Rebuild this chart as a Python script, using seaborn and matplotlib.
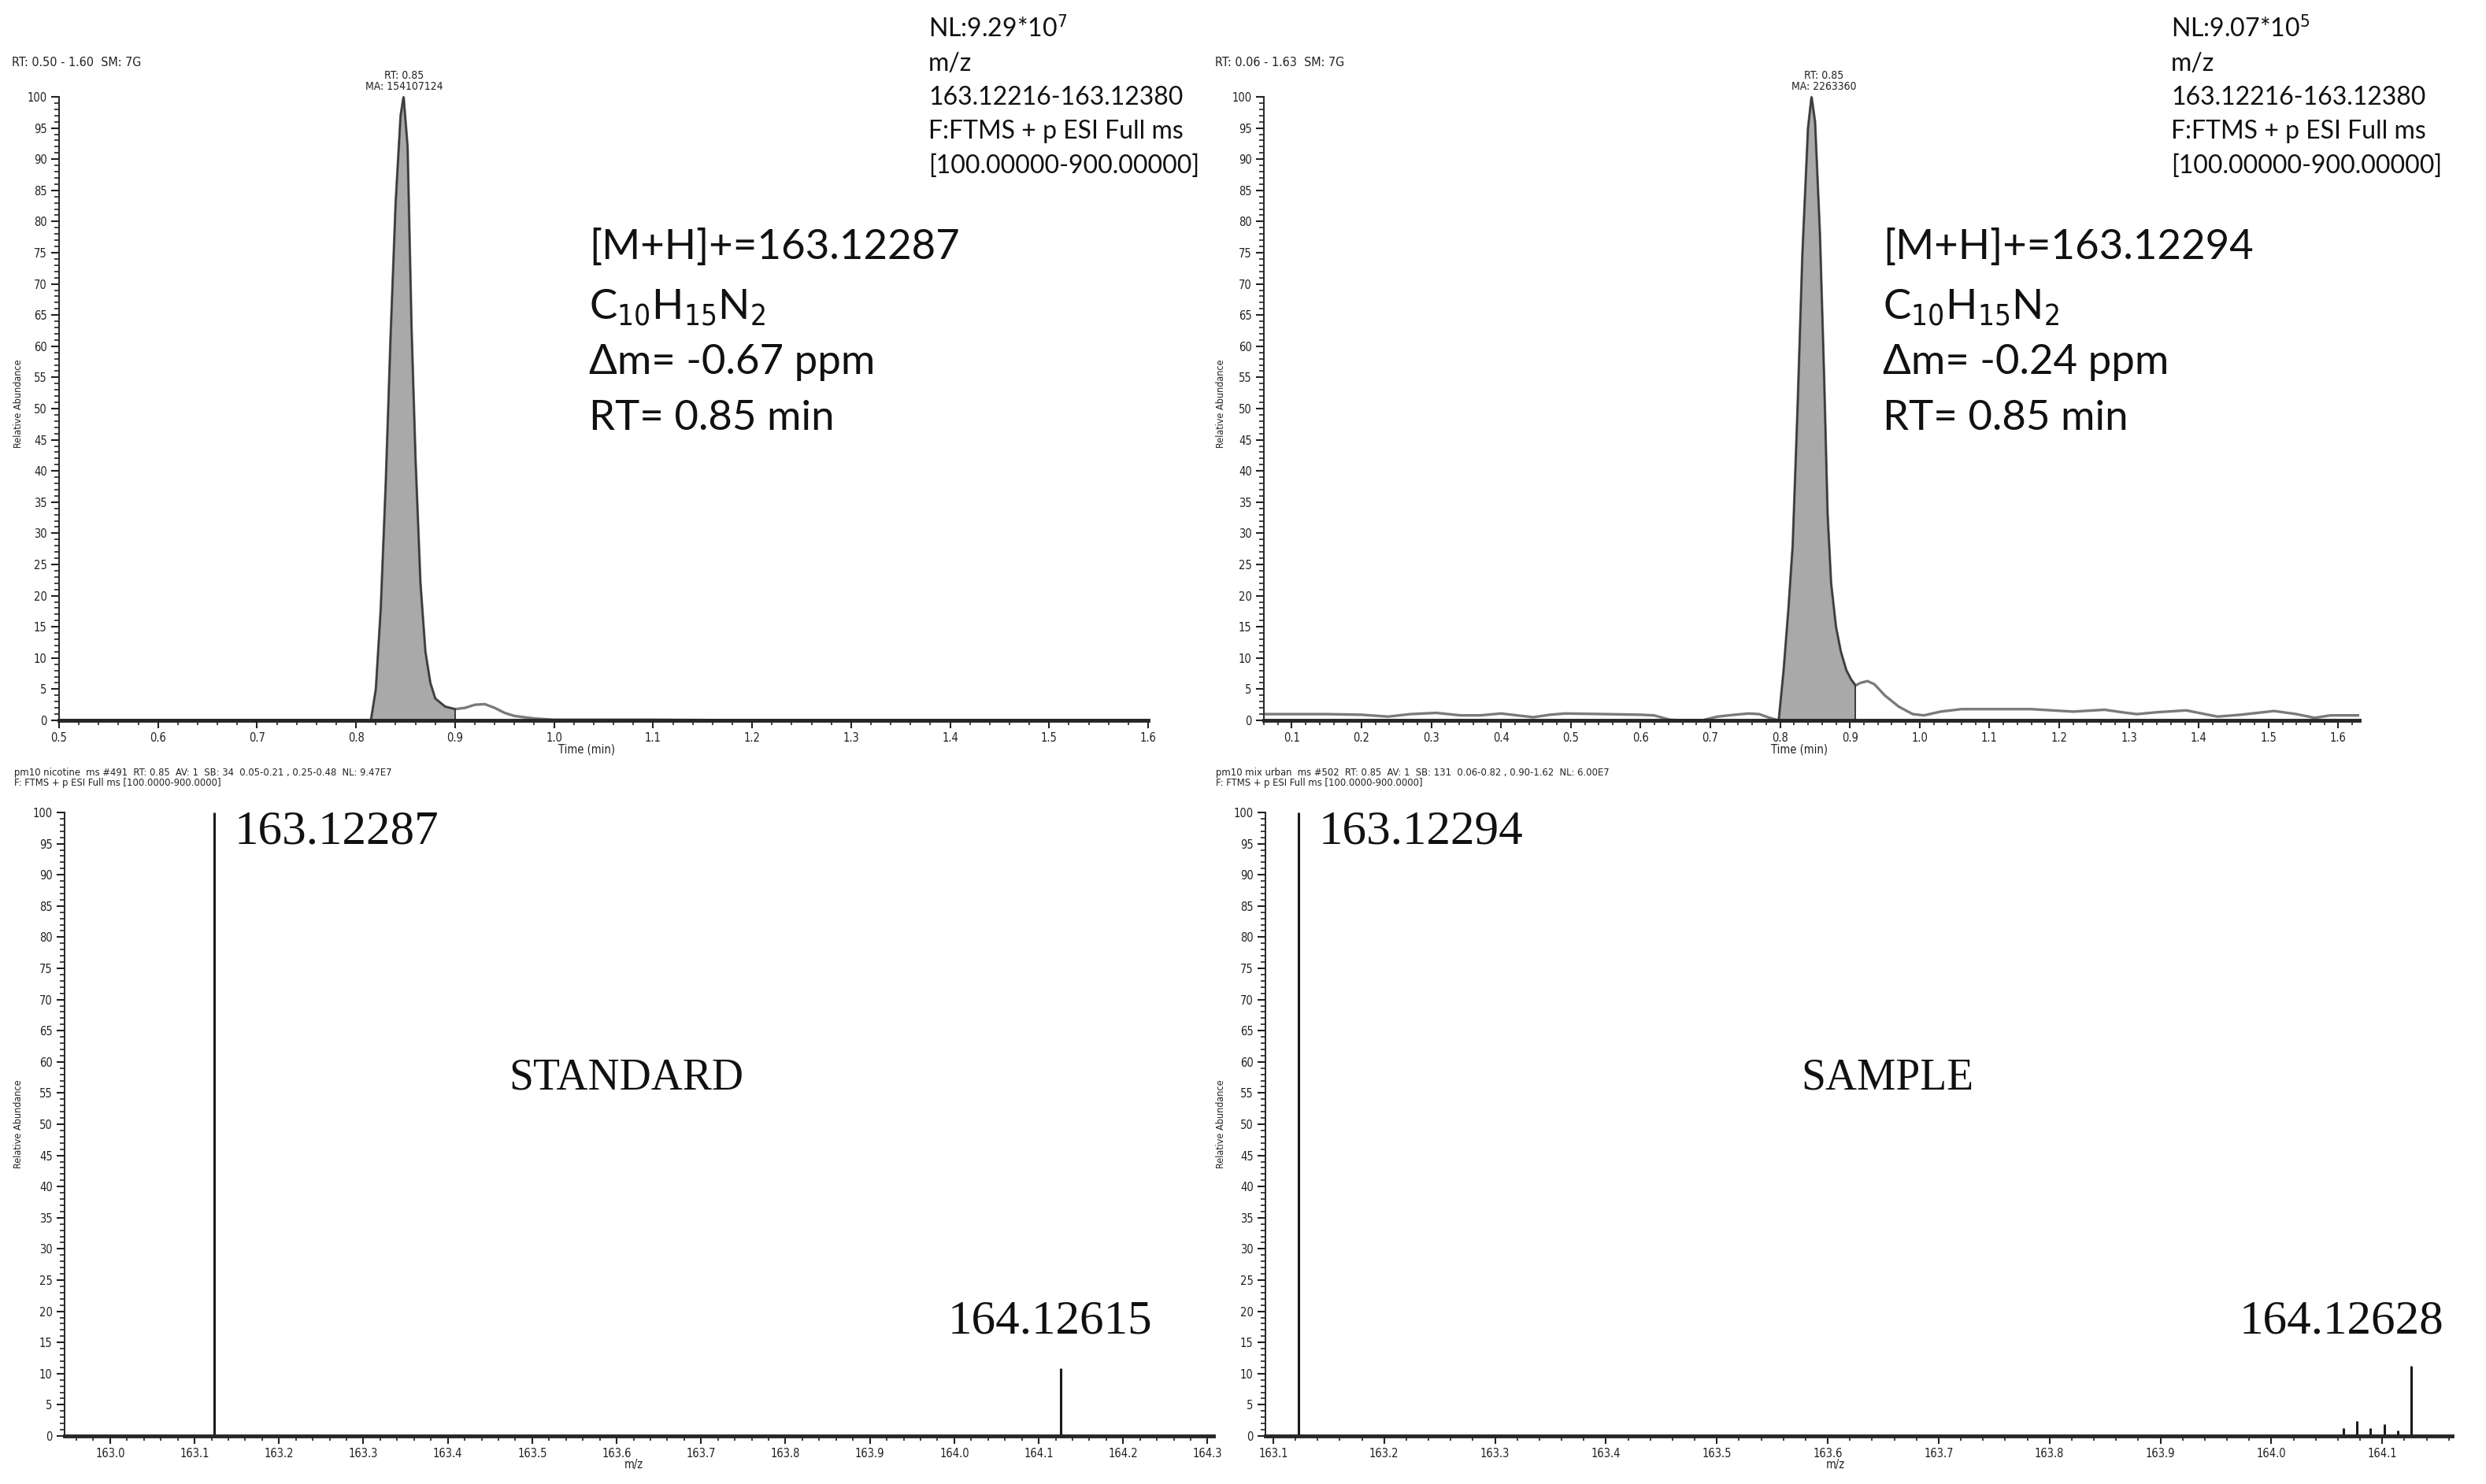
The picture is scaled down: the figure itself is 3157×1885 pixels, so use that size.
import matplotlib
matplotlib.use("Agg")
import matplotlib.pyplot as plt
from matplotlib.ticker import MultipleLocator
import seaborn as sns
import pandas as pd

# ---- data ----
# extracted-ion chromatogram, standard (top left)
std_time = [0.50, 0.70, 0.80, 0.812, 0.815, 0.820, 0.825, 0.830, 0.835, 0.840, 0.845, 0.848,
            0.852, 0.856, 0.860, 0.865, 0.870, 0.875, 0.880, 0.890, 0.900, 0.910, 0.920,
            0.930, 0.940, 0.950, 0.960, 0.980, 1.000, 1.100, 1.200, 1.600]
std_abund = [0, 0, 0, 0, 0, 5, 18, 38, 62, 83, 97, 100,
             92, 63, 42, 22, 11, 6, 3.5, 2.2, 1.8, 2.0, 2.5,
             2.6, 2.0, 1.2, 0.7, 0.3, 0.1, 0.1, 0, 0]
std_peak = (0.815, 0.900)

# extracted-ion chromatogram, sample (top right)
smp_time = [0.06, 0.10, 0.15, 0.20, 0.238, 0.27, 0.307, 0.342, 0.37, 0.40, 0.446, 0.47, 0.492,
            0.55, 0.60, 0.619, 0.642, 0.66, 0.688, 0.71, 0.735, 0.755, 0.77, 0.785, 0.798,
            0.805, 0.812, 0.818, 0.825, 0.832, 0.840, 0.845, 0.850, 0.857, 0.863, 0.868,
            0.873, 0.880, 0.887, 0.895, 0.902, 0.908, 0.915, 0.925, 0.935, 0.950, 0.970,
            0.990, 1.006, 1.03, 1.06, 1.09, 1.12, 1.16, 1.19, 1.22, 1.265, 1.29, 1.311,
            1.34, 1.382, 1.40, 1.427, 1.46, 1.508, 1.54, 1.566, 1.589, 1.618, 1.63]
smp_abund = [1.0, 1.0, 1.0, 0.9, 0.6, 1.0, 1.2, 0.8, 0.8, 1.1, 0.5, 0.9, 1.1,
             1.0, 0.9, 0.8, 0.1, 0, 0, 0.6, 0.9, 1.1, 1.0, 0.4, 0,
             8, 18, 28, 50, 75, 95, 100, 96, 78, 55, 33,
             22, 15, 11, 8, 6.5, 5.6, 6.0, 6.3, 5.8, 4.0, 2.2,
             1.0, 0.8, 1.4, 1.8, 1.8, 1.8, 1.8, 1.6, 1.4, 1.7, 1.3, 1.0,
             1.3, 1.6, 1.2, 0.6, 0.9, 1.5, 1.0, 0.4, 0.8, 0.8, 0.8]
smp_peak = (0.798, 0.908)

# mass spectra (bottom)
std_mz = [163.12287, 164.12615]
std_int = [100, 10.9]
smp_mz = [163.12294, 164.065, 164.077, 164.089, 164.102, 164.114, 164.12628]
smp_int = [100, 1.2, 2.4, 1.3, 1.9, 0.9, 11.2]

W, H = 3157, 1885
fig = plt.figure(figsize=(W / 100, H / 100), dpi=100)
sns.set_style("ticks")
plt.rcParams["font.family"] = ["DejaVu Sans"]
plt.rcParams["font.stretch"] = "condensed"


def box(left, right, y0, y100):
    # axes rectangle from pixel positions
    return [left / W, 1 - y0 / H, (right - left) / W, (y0 - y100) / H]


def ftxt(x, y, s, **kw):
    kw.setdefault("va", "center")
    fig.text(x / W, 1 - y / H, s, **kw)


def style_axes(ax, xlim, xmajor, xminor, xfmt):
    ax.set_xlim(*xlim)
    ax.set_ylim(0, 100)
    ax.xaxis.set_major_locator(MultipleLocator(xmajor))
    ax.xaxis.set_minor_locator(MultipleLocator(xminor))
    ax.yaxis.set_major_locator(MultipleLocator(5))
    ax.yaxis.set_minor_locator(MultipleLocator(1))
    ax.set_xticklabels([xfmt.format(v) for v in ax.get_xticks()])
    ax.set_xlim(*xlim)
    sns.despine(ax=ax)
    ax.spines["bottom"].set_linewidth(3.5)
    ax.spines["left"].set_linewidth(1.4)
    ax.tick_params(which="major", length=7, width=1.5, labelsize=10.5, pad=4, color="#222",
                   labelcolor="#222")
    ax.tick_params(which="minor", length=4, width=1.2, color="#222")
    ax.set_xlabel("")
    ax.set_ylabel("")
    ax.patch.set_alpha(0)


def chromatogram(ax, t, a, peak):
    df = pd.DataFrame({"time": t, "abund": a})
    sns.lineplot(data=df, x="time", y="abund", ax=ax, color="#7a7a7a", lw=2.4,
                 estimator=None, sort=False)
    sub = df[(df["time"] >= peak[0]) & (df["time"] <= peak[1])]
    ax.fill_between(sub["time"], 0, sub["abund"], color="#a9a9a9", lw=0)
    ax.plot(sub["time"], sub["abund"], color="#3a3a3a", lw=1.6, clip_on=False)
    ax.vlines(peak[1], 0, sub["abund"].iloc[-1], color="#3a3a3a", lw=1.4)


def spectrum(ax, mz, inten):
    ax.vlines(mz, 0, inten, color="#1a1a1a", lw=2.2, clip_on=False)


# ---- top left: standard chromatogram ----
ax1 = fig.add_axes(box(75, 1458, 915, 123))
chromatogram(ax1, std_time, std_abund, std_peak)
style_axes(ax1, (0.5, 1.6), 0.1, 0.02, "{:.1f}")

# ---- top right: sample chromatogram ----
ax2 = fig.add_axes(box(1605, 2996, 915, 123))
chromatogram(ax2, smp_time, smp_abund, smp_peak)
style_axes(ax2, (0.06, 1.63), 0.1, 0.02, "{:.1f}")

# ---- bottom left: standard spectrum ----
ax3 = fig.add_axes(box(82, 1541, 1824, 1032))
spectrum(ax3, std_mz, std_int)
style_axes(ax3, (162.946, 164.307), 0.1, 0.02, "{:.1f}")

# ---- bottom right: sample spectrum ----
ax4 = fig.add_axes(box(1607, 3114, 1824, 1032))
spectrum(ax4, smp_mz, smp_int)
style_axes(ax4, (163.093, 164.163), 0.1, 0.02, "{:.1f}")

# small instrument texts
small = dict(fontsize=10.5, color="#222")
ftxt(15, 80, "RT: 0.50 - 1.60  SM: 7G", fontsize=11.5, color="#222")
ftxt(1543, 80, "RT: 0.06 - 1.63  SM: 7G", fontsize=11.5, color="#222")
ftxt(513, 103, "RT: 0.85\nMA: 154107124", fontsize=10, color="#222", ha="center", linespacing=1.0)
ftxt(2316, 103, "RT: 0.85\nMA: 2263360", fontsize=10, color="#222", ha="center", linespacing=1.0)
ftxt(745, 952, "Time (min)", **small, ha="center")
ftxt(2285, 952, "Time (min)", **small, ha="center")
ftxt(805, 1860, "m/z", **small, ha="center")
ftxt(2331, 1860, "m/z", **small, ha="center")
for yc in (513, 1428):
    ftxt(24, yc, "Relative Abundance", fontsize=9, color="#222", rotation=90, ha="center")
    ftxt(1550, yc, "Relative Abundance", fontsize=9, color="#222", rotation=90, ha="center")
ftxt(18, 988, "pm10 nicotine  ms #491  RT: 0.85  AV: 1  SB: 34  0.05-0.21 , 0.25-0.48  NL: 9.47E7\n"
     "F: FTMS + p ESI Full ms [100.0000-900.0000]", fontsize=9.3, color="#222", linespacing=1.0)
ftxt(1544, 988, "pm10 mix urban  ms #502  RT: 0.85  AV: 1  SB: 131  0.06-0.82 , 0.90-1.62  NL: 6.00E7\n"
     "F: FTMS + p ESI Full ms [100.0000-900.0000]", fontsize=9.3, color="#222", linespacing=1.0)

# scan filter boxes
info = dict(fontsize=23, family="Lato", fontstretch="normal", color="#111", linespacing=1.55, va="top")
ftxt(1179, 20, "NL:9.29*10$^{7}$\nm/z\n163.12216-163.12380\nF:FTMS + p ESI Full ms\n[100.00000-900.00000]", **info)
ftxt(2757, 20, "NL:9.07*10$^{5}$\nm/z\n163.12216-163.12380\nF:FTMS + p ESI Full ms\n[100.00000-900.00000]", **info)

# identification texts
ident = dict(fontsize=38, family="Lato", fontstretch="normal", color="#111")
for x0, mass, dm in ((748, "163.12287", "-0.67"), (2391, "163.12294", "-0.24")):
    ftxt(x0, 314, "[M+H]+=" + mass, **ident)
    ftxt(x0, 392, "C$_{10}$H$_{15}$N$_{2}$", **ident)
    ftxt(x0, 461, "\u0394m= " + dm + " ppm", **ident)
    ftxt(x0, 531, "RT= 0.85 min", **ident)

# peak labels on the spectra
serif = dict(fontsize=44, family="Liberation Serif", fontstretch="normal", color="#111")
ftxt(298, 1057, "163.12287", **serif)
ftxt(1204, 1679, "164.12615", **serif)
ftxt(646, 1369, "STANDARD", **{**serif, "fontsize": 40})
ftxt(1675, 1057, "163.12294", **serif)
ftxt(2844, 1679, "164.12628", **serif)
ftxt(2287, 1369, "SAMPLE", **{**serif, "fontsize": 40})

fig.savefig("out.png", dpi=100, facecolor="white")
